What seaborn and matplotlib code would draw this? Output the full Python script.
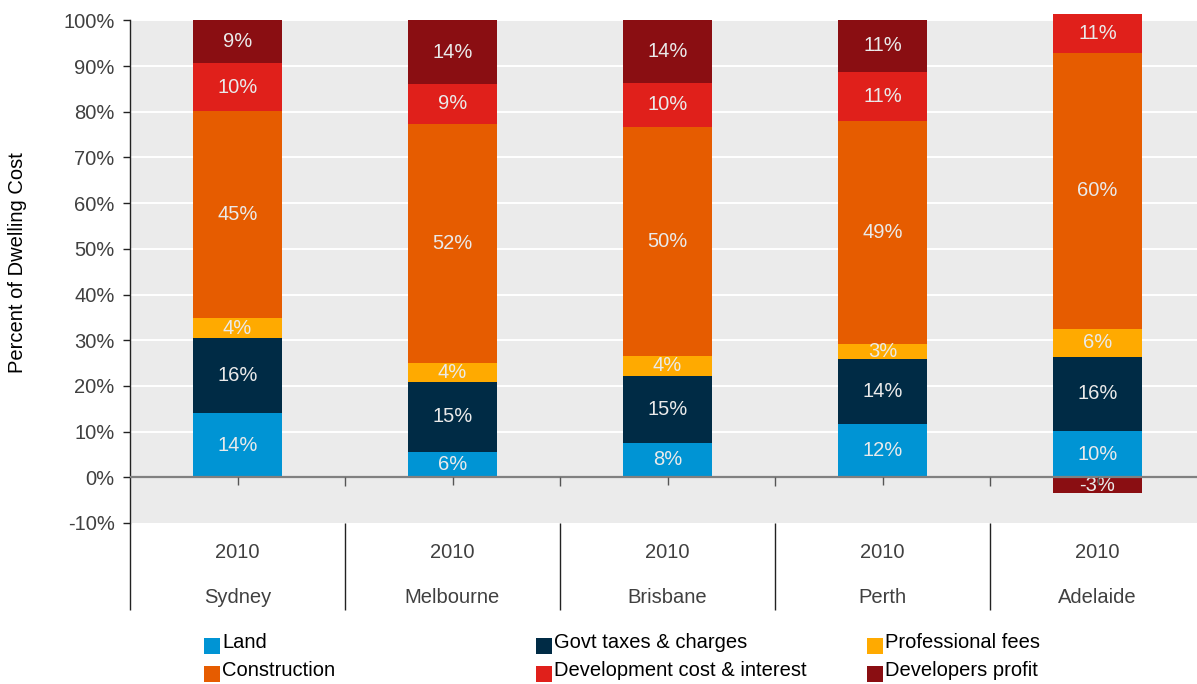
import matplotlib
matplotlib.use("Agg")
import matplotlib.pyplot as plt
from matplotlib.patches import Rectangle
import numpy as np
import seaborn as sns

CITIES = ["Sydney", "Melbourne", "Brisbane", "Perth", "Adelaide"]
YEAR = "2010"
COMPONENTS = [
    "Land",
    "Govt taxes & charges",
    "Professional fees",
    "Construction",
    "Development cost & interest",
    "Developers profit",
]
COLORS = ["#0094D4", "#002B45", "#FFAA00", "#E65C00", "#E0201B", "#8A0E12"]

# share of dwelling cost (%), one list per component, in CITIES order
land = [14.0, 5.6, 7.6, 11.6, 10.2]
govt = [16.4, 15.2, 14.6, 14.3, 16.1]
prof_fees = [4.4, 4.2, 4.4, 3.3, 6.2]
construction = [45.4, 52.4, 50.1, 48.7, 60.4]
dev_cost = [10.4, 8.7, 9.6, 10.9, 10.6]
dev_profit = [9.4, 13.9, 13.7, 11.2, -3.4]
SERIES = [land, govt, prof_fees, construction, dev_cost, dev_profit]

Y_TICKS = list(range(-10, 101, 10))

sns.set_theme(style="white")
plt.rcParams["font.family"] = ["Liberation Sans", "DejaVu Sans"]
TXT = "#404040"

fig = plt.figure(figsize=(11.97, 6.84), dpi=100)
# top of the axes sits a little above 100% so the Adelaide bar pokes out
ax = fig.add_axes([130 / 1197, 161 / 684, 1075 / 1197, 509 / 684])
ax.set_facecolor("white")

# stack positives upward from 0, negatives downward from 0
pos_base = np.zeros(len(CITIES))
neg_base = np.zeros(len(CITIES))
for name, vals, col in zip(COMPONENTS, SERIES, COLORS):
    vals = np.array(vals, dtype=float)
    bottom = np.where(vals >= 0, pos_base, neg_base)
    sns.barplot(x=CITIES, y=vals, order=CITIES, bottom=bottom, color=col,
                width=0.41, errorbar=None, saturation=1, ax=ax, zorder=2,
                linewidth=0)
    pos_base += np.where(vals >= 0, vals, 0)
    neg_base += np.where(vals < 0, vals, 0)
    ax.bar_label(ax.containers[-1], labels=[f"{v:.0f}%" for v in vals],
                 label_type="center", color="#EAEAEA", fontsize=14.5)

# plot background only covers -10%..100%
ax.axhspan(-10, 100, color="#EBEBEB", lw=0, zorder=0)
for t in Y_TICKS[1:]:
    if t != 0:
        ax.axhline(t, color="white", lw=1.4, zorder=0.5)
ax.axhline(0, color="#808080", lw=1.6, zorder=3)

ax.set_xlim(-0.5, len(CITIES) - 0.5)
ax.set_ylim(-10, 101.4)
ax.set_yticks(Y_TICKS)
ax.set_yticklabels([f"{t}%" for t in Y_TICKS])
ax.tick_params(axis="y", direction="out", length=5, width=1, color="#222222",
               labelsize=14.5, labelcolor=TXT, pad=6, left=True)
ax.set_xticks([])
ax.set_xlabel("")
for s in ["top", "right", "bottom"]:
    ax.spines[s].set_visible(False)
ax.spines["left"].set_color("#222222")
ax.spines["left"].set_linewidth(1)
ax.spines["left"].set_bounds(-10, 100)

# small category ticks below the zero line
centers = np.arange(len(CITIES))
bounds = np.arange(len(CITIES) - 1) + 0.5
ax.vlines(centers, -1.6, 0, color="#555555", lw=1, zorder=3)
ax.vlines(bounds, -1.9, 0, color="#555555", lw=1, zorder=3)

# multi-level category axis below the plot
xt = ax.get_xaxis_transform()
ax.vlines(np.concatenate([[-0.5], bounds]), -0.171, 0, transform=xt,
          clip_on=False, color="#222222", lw=1)
for i, city in enumerate(CITIES):
    ax.text(i, -0.058, YEAR, transform=xt, ha="center", va="center",
            fontsize=14.5, color=TXT)
    ax.text(i, -0.146, city, transform=xt, ha="center", va="center",
            fontsize=14.5, color=TXT)

fig.text(18 / 1197, 1 - 263 / 684, "Percent of Dwelling Cost", rotation=90,
         ha="center", va="center", fontsize=14.5, color="black")

# legend: 2 rows x 3 columns
col_x = [204, 536, 867]
row_y = [646, 674]
for i, (name, col) in enumerate(zip(COMPONENTS, COLORS)):
    x0 = col_x[i % 3]
    yc = row_y[i // 3]
    fig.patches.append(Rectangle((x0 / 1197, 1 - (yc + 8) / 684), 16 / 1197, 16 / 684,
                                 transform=fig.transFigure, color=col, lw=0))
    fig.text((x0 + 18) / 1197, 1 - (yc - 3) / 684, name, ha="left", va="center",
             fontsize=14.5, color="black")

fig.savefig("out.png", dpi=100)
